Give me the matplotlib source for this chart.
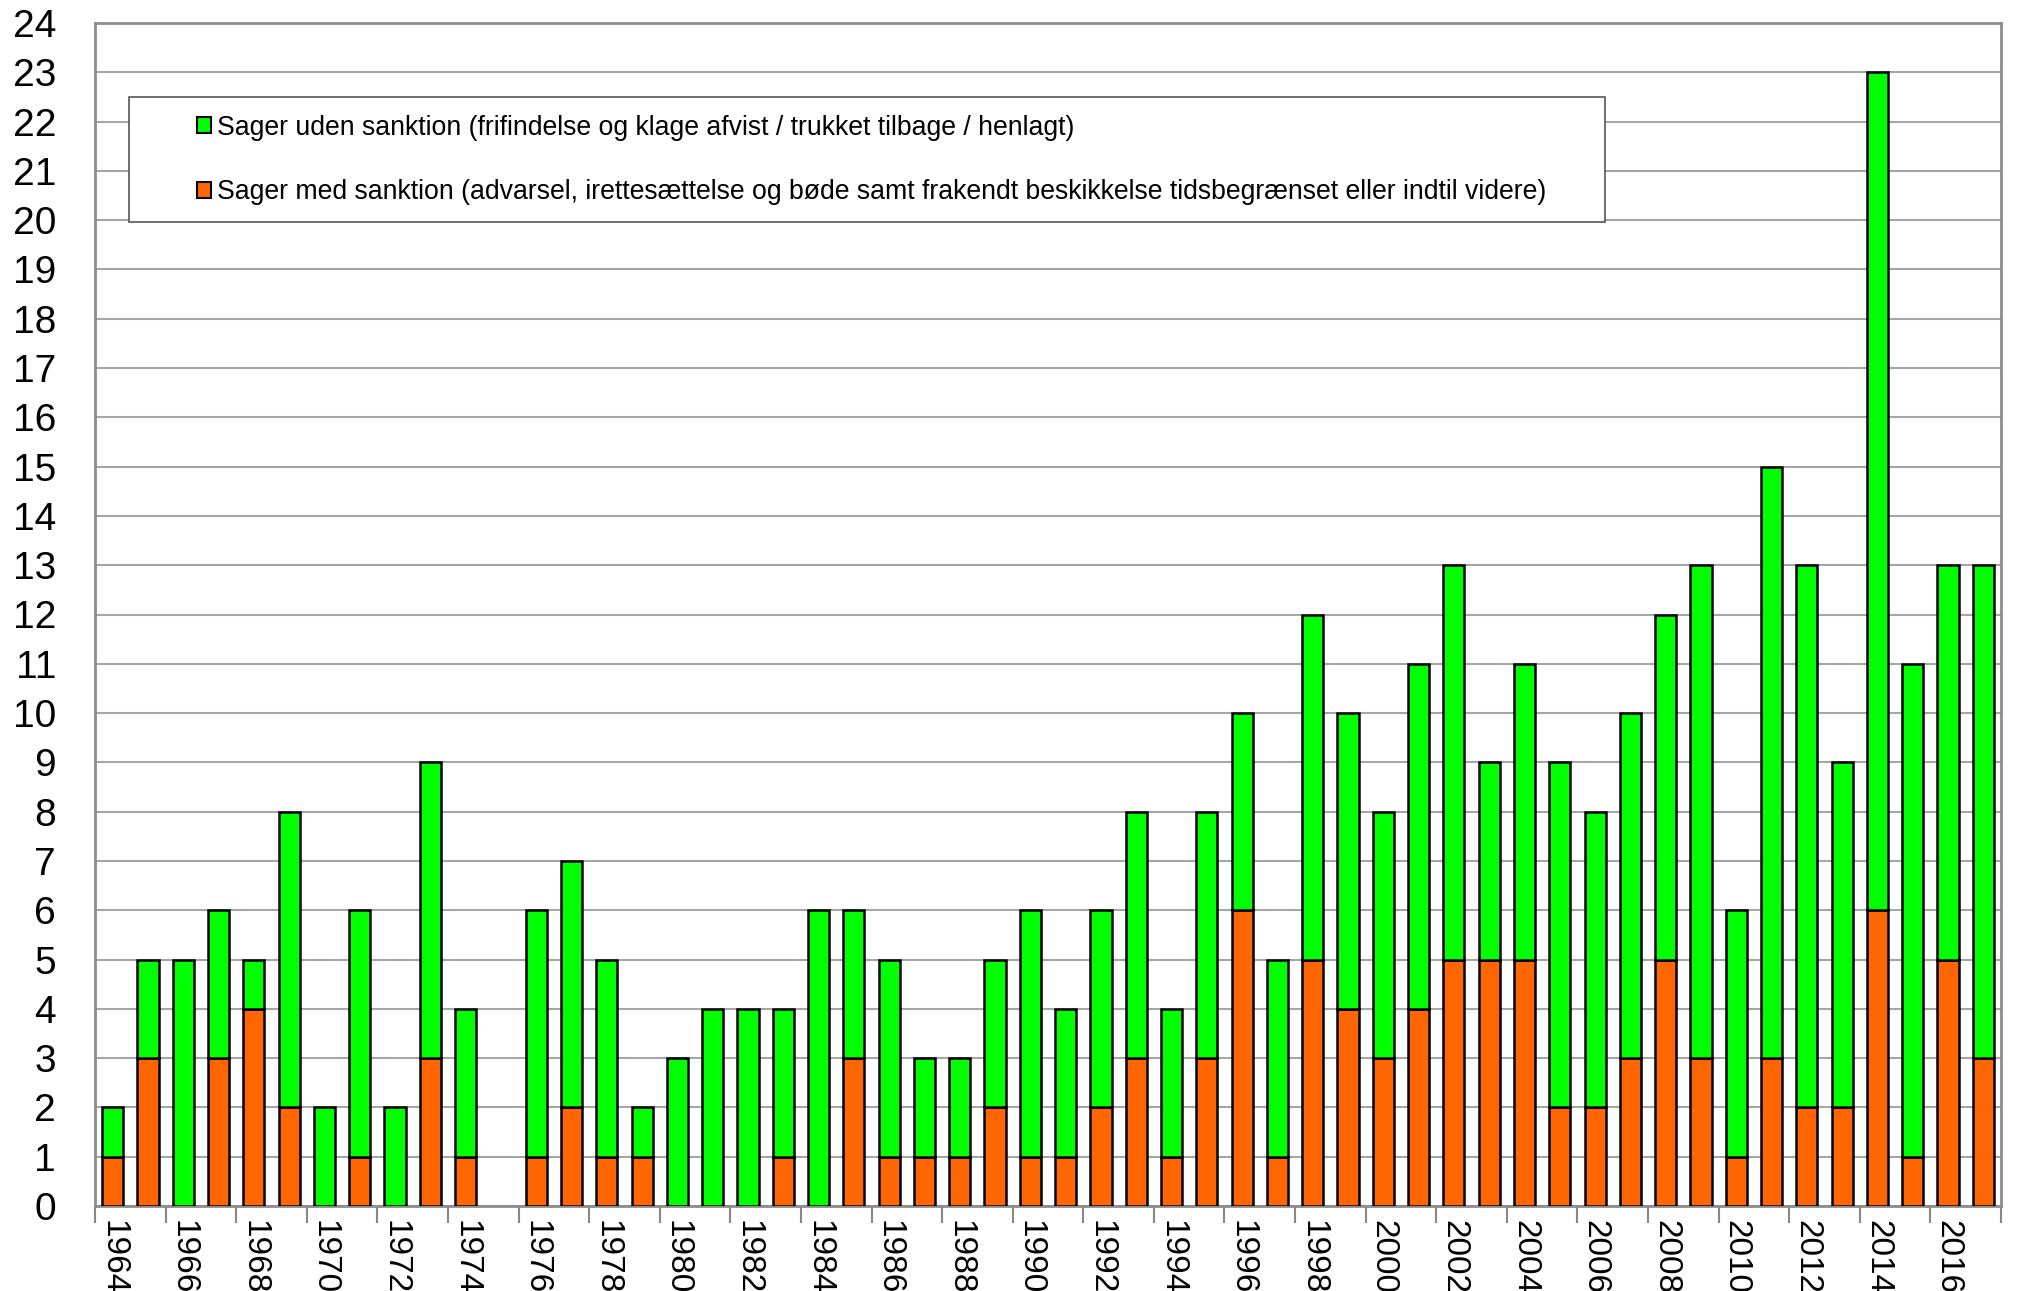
import matplotlib
matplotlib.use("Agg")
import matplotlib.pyplot as plt
from matplotlib.patches import Rectangle, Patch
import numpy as np

years = list(range(1964, 2018))
totals = [2, 5, 5, 6, 5, 8, 2, 6, 2, 9, 4, 0, 6, 7, 5, 2, 3, 4, 4, 4,
          6, 6, 5, 3, 3, 5, 6, 4, 6, 8, 4, 8, 10, 5, 12, 10, 8, 11, 13, 9,
          11, 9, 8, 10, 12, 13, 6, 15, 13, 9, 23, 11, 13, 13]
med_sanktion = [1, 3, 0, 3, 4, 2, 0, 1, 0, 3, 1, 0, 1, 2, 1, 1, 0, 0, 0, 1,
                0, 3, 1, 1, 1, 2, 1, 1, 2, 3, 1, 3, 6, 1, 5, 4, 3, 4, 5, 5,
                5, 2, 2, 3, 5, 3, 1, 3, 2, 2, 6, 1, 5, 3]
uden_sanktion = [t - m for t, m in zip(totals, med_sanktion)]

label_uden = "Sager uden sanktion (frifindelse og klage afvist / trukket tilbage / henlagt)"
label_med = ("Sager med sanktion (advarsel, irettesættelse og bøde samt frakendt "
             "beskikkelse tidsbegrænset eller indtil videre)")

GREEN = "#00FF00"
ORANGE = "#FF6600"

plt.rcParams['font.family'] = ['Liberation Sans', 'DejaVu Sans']

fig = plt.figure(figsize=(20.38, 12.91), dpi=100)
ax = fig.add_axes([95/2038, 1-1206/1291, (2001-95)/2038, (1206-23)/1291])

x = np.arange(len(years))
lw_med = [1.8 if v > 0 else 0 for v in med_sanktion]
lw_uden = [1.8 if v > 0 else 0 for v in uden_sanktion]
ax.bar(x, med_sanktion, width=0.6, color=ORANGE, edgecolor="black", linewidth=lw_med, zorder=3)
ax.bar(x, uden_sanktion, bottom=med_sanktion, width=0.6, color=GREEN,
       edgecolor="black", linewidth=lw_uden, zorder=3)

ax.set_xlim(-0.5, len(years) - 0.5)
ax.set_ylim(0, 24)
ax.set_yticks(range(0, 25))
ax.set_yticklabels([str(i) for i in range(0, 25)], fontsize=28)
ax.tick_params(axis='y', length=0, pad=28)

ax.set_xticks(np.arange(-0.5, len(years), 2))
ax.set_xticklabels([])
ax.set_xticks(x[::2], minor=True)
ax.set_xticklabels([str(y) for y in years[::2]], minor=True, rotation=270,
                   fontsize=24, va='top', ha='center')
ax.tick_params(axis='x', which='major', length=12, width=1.5, color='#888888')
ax.tick_params(axis='x', which='minor', length=0, pad=10)

ax.yaxis.grid(True, color='#a6a6a6', linewidth=1.5, zorder=0)
ax.set_axisbelow(True)
for s in ax.spines.values():
    s.set_color('#8c8c8c')
    s.set_linewidth(2)

# legend frame
fig.patches.append(Rectangle((129/2038, 1-222/1291), (1605-129)/2038, (222-97)/1291,
                             transform=fig.transFigure, facecolor='white',
                             edgecolor='#555555', linewidth=1.2, zorder=5))
handles = [Patch(facecolor=GREEN, edgecolor='black', linewidth=1.5, label=label_uden),
           Patch(facecolor=ORANGE, edgecolor='black', linewidth=1.5, label=label_med)]
leg = fig.legend(handles=handles, loc='upper left', bbox_to_anchor=(178/2038, 1-96/1291),
                 frameon=False, fontsize=19.2, handlelength=0.55, handleheight=0.55,
                 handletextpad=0.2, labelspacing=1.45, borderpad=0.2)
leg.set_zorder(6)

fig.savefig("out.png", dpi=100)
